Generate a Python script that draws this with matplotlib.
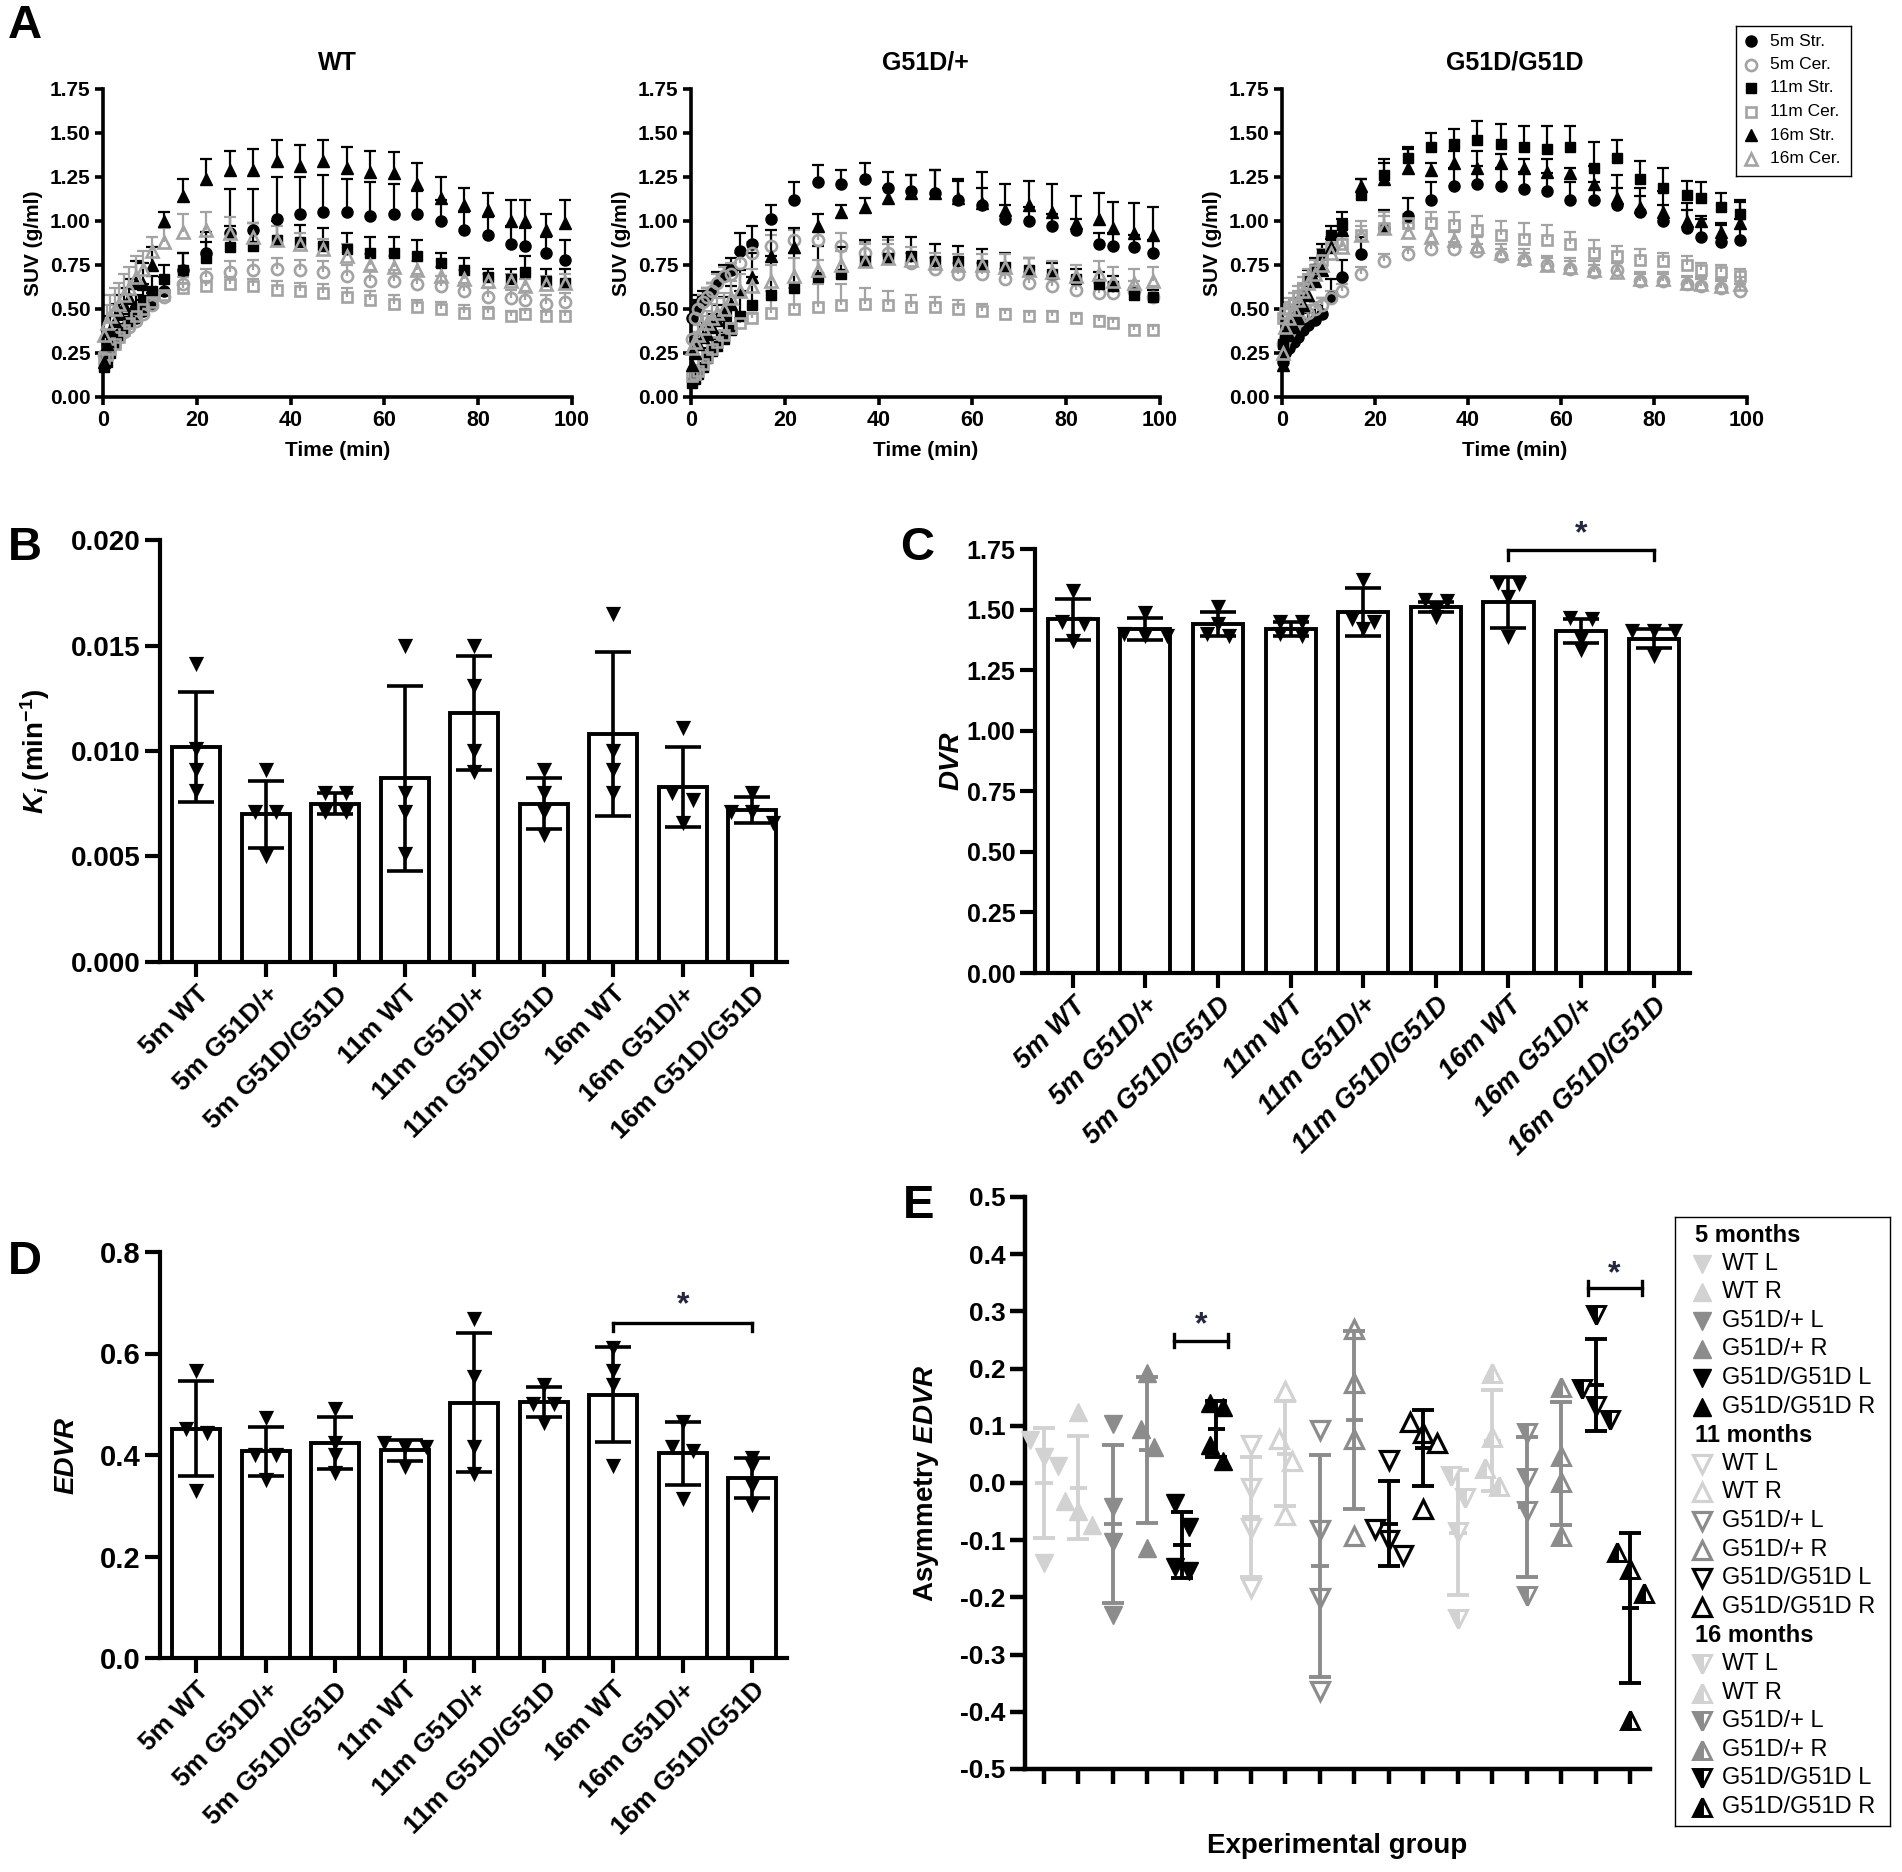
import matplotlib
matplotlib.use("Agg")
import matplotlib.pyplot as plt
import numpy as np

W, H = 1902, 1872
GRAY = "#a3a3a3"

plt.rcParams.update({
    "font.family": ["Liberation Sans", "DejaVu Sans"],
    "font.weight": "bold",
    "axes.labelweight": "bold",
    "axes.spines.top": False,
    "axes.spines.right": False,
    "axes.unicode_minus": False,
    "mathtext.fontset": "custom",
    "mathtext.rm": "Liberation Sans:bold",
    "mathtext.it": "Liberation Sans:italic:bold",
    "mathtext.bf": "Liberation Sans:bold",
})

# ---------------- panel A : SUV time activity curves ----------------
TIME = [0.25, 0.75, 1.5, 2.5, 3.5, 4.5, 5.5, 7, 8.5, 10.5, 13,
        17, 22, 27, 32, 37, 42, 47, 52, 57, 62, 67, 72, 77, 82, 87, 90, 94.5, 98.5]

WT_STR5 = [0.24, 0.27, 0.30, 0.33, 0.36, 0.39, 0.42, 0.45, 0.49, 0.52, 0.60,
           0.72, 0.82, 0.93, 0.95, 1.01, 1.04, 1.05, 1.05, 1.03, 1.04, 1.04, 1.00, 0.95, 0.92, 0.87, 0.86, 0.82, 0.78]
WT_STR5_SD = [0.03, 0.03, 0.04, 0.04, 0.05, 0.05, 0.05, 0.06, 0.06, 0.07, 0.08,
              0.10, 0.12, 0.25, 0.23, 0.24, 0.21, 0.21, 0.19, 0.19, 0.17, 0.13, 0.12, 0.10, 0.10, 0.10, 0.10, 0.09, 0.11]
WT_CER5 = [0.24, 0.26, 0.28, 0.31, 0.34, 0.37, 0.40, 0.43, 0.47, 0.52, 0.57,
           0.64, 0.68, 0.71, 0.72, 0.73, 0.72, 0.71, 0.69, 0.66, 0.66, 0.64, 0.63, 0.60, 0.57, 0.56, 0.55, 0.53, 0.54]
WT_CER5_SD = [0.03, 0.03, 0.03, 0.03, 0.03, 0.03, 0.03, 0.03, 0.03, 0.03, 0.03,
              0.04, 0.05, 0.06, 0.06, 0.06, 0.06, 0.06, 0.06, 0.06, 0.06, 0.06, 0.06, 0.05, 0.05, 0.05, 0.05, 0.05, 0.05]
WT_STR11 = [0.17, 0.20, 0.25, 0.30, 0.35, 0.39, 0.43, 0.50, 0.55, 0.60, 0.67,
            0.72, 0.79, 0.85, 0.86, 0.89, 0.88, 0.86, 0.84, 0.82, 0.82, 0.80, 0.76, 0.72, 0.68, 0.67, 0.71, 0.66, 0.65]
WT_STR11_SD = [0.03, 0.03, 0.04, 0.05, 0.05, 0.06, 0.07, 0.08, 0.09, 0.09, 0.08,
               0.10, 0.09, 0.12, 0.13, 0.11, 0.10, 0.10, 0.09, 0.09, 0.09, 0.09, 0.06, 0.07, 0.05, 0.06, 0.09, 0.07, 0.08]
WT_CER11 = [0.22, 0.24, 0.27, 0.30, 0.34, 0.38, 0.42, 0.46, 0.50, 0.54, 0.58,
            0.62, 0.63, 0.64, 0.63, 0.61, 0.60, 0.59, 0.57, 0.55, 0.53, 0.51, 0.50, 0.48, 0.48, 0.46, 0.47, 0.46, 0.46]
WT_CER11_SD = [0.03, 0.03, 0.03, 0.03, 0.03, 0.03, 0.03, 0.03, 0.03, 0.03, 0.03,
               0.03, 0.03, 0.04, 0.04, 0.05, 0.05, 0.05, 0.05, 0.05, 0.05, 0.04, 0.04, 0.04, 0.03, 0.03, 0.03, 0.03, 0.03]
WT_STR16 = [0.20, 0.30, 0.38, 0.43, 0.48, 0.52, 0.56, 0.65, 0.64, 0.75, 1.00,
            1.14, 1.24, 1.29, 1.29, 1.34, 1.31, 1.34, 1.30, 1.28, 1.27, 1.21, 1.13, 1.09, 1.06, 1.00, 1.00, 0.95, 0.99]
WT_STR16_SD = [0.05, 0.06, 0.08, 0.10, 0.10, 0.10, 0.11, 0.12, 0.12, 0.10, 0.05,
               0.10, 0.11, 0.11, 0.12, 0.12, 0.12, 0.12, 0.12, 0.12, 0.12, 0.12, 0.12, 0.10, 0.10, 0.12, 0.12, 0.09, 0.13]
WT_CER16 = [0.35, 0.42, 0.46, 0.50, 0.53, 0.58, 0.62, 0.68, 0.73, 0.83, 0.88,
            0.94, 0.95, 0.93, 0.91, 0.89, 0.87, 0.84, 0.80, 0.75, 0.74, 0.72, 0.69, 0.67, 0.66, 0.66, 0.63, 0.64, 0.65]
WT_CER16_SD = [0.08, 0.10, 0.12, 0.12, 0.12, 0.12, 0.12, 0.12, 0.10, 0.08, 0.08,
               0.10, 0.10, 0.09, 0.08, 0.08, 0.06, 0.06, 0.07, 0.06, 0.06, 0.05, 0.05, 0.05, 0.04, 0.04, 0.04, 0.05, 0.05]

HET_STR5 = [0.45, 0.50, 0.53, 0.55, 0.57, 0.60, 0.65, 0.69, 0.72, 0.83, 0.87,
            1.01, 1.12, 1.22, 1.21, 1.24, 1.19, 1.17, 1.16, 1.12, 1.09, 1.01, 1.00, 0.97, 0.95, 0.87, 0.86, 0.85, 0.82]
HET_STR5_SD = [0.05, 0.05, 0.05, 0.05, 0.05, 0.05, 0.06, 0.06, 0.07, 0.10, 0.10,
               0.08, 0.10, 0.10, 0.08, 0.09, 0.09, 0.09, 0.13, 0.11, 0.10, 0.08, 0.08, 0.07, 0.06, 0.06, 0.07, 0.07, 0.07]
HET_CER5 = [0.33, 0.45, 0.50, 0.54, 0.57, 0.60, 0.65, 0.69, 0.70, 0.76, 0.82,
            0.86, 0.89, 0.89, 0.86, 0.82, 0.82, 0.76, 0.73, 0.70, 0.70, 0.67, 0.65, 0.63, 0.61, 0.59, 0.59, 0.60, 0.57]
HET_CER5_SD = [0.04, 0.04, 0.04, 0.04, 0.05, 0.05, 0.05, 0.05, 0.06, 0.06, 0.06,
               0.06, 0.06, 0.05, 0.07, 0.06, 0.07, 0.06, 0.06, 0.06, 0.06, 0.06, 0.06, 0.06, 0.06, 0.06, 0.06, 0.06, 0.06]
HET_STR11 = [0.08, 0.10, 0.13, 0.17, 0.22, 0.26, 0.29, 0.33, 0.38, 0.46, 0.52,
             0.58, 0.62, 0.68, 0.70, 0.77, 0.79, 0.80, 0.77, 0.77, 0.75, 0.74, 0.72, 0.70, 0.67, 0.64, 0.63, 0.58, 0.57]
HET_STR11_SD = [0.03, 0.03, 0.04, 0.05, 0.06, 0.07, 0.08, 0.10, 0.12, 0.14, 0.16,
                0.22, 0.20, 0.18, 0.15, 0.12, 0.12, 0.11, 0.10, 0.09, 0.09, 0.08, 0.07, 0.06, 0.06, 0.07, 0.06, 0.04, 0.04]
HET_CER11 = [0.12, 0.13, 0.15, 0.19, 0.23, 0.27, 0.31, 0.35, 0.39, 0.42, 0.45,
             0.48, 0.50, 0.51, 0.52, 0.53, 0.52, 0.51, 0.51, 0.50, 0.49, 0.47, 0.46, 0.46, 0.45, 0.43, 0.42, 0.38, 0.38]
HET_CER11_SD = [0.03, 0.03, 0.03, 0.03, 0.03, 0.03, 0.03, 0.03, 0.03, 0.03, 0.03,
                0.12, 0.12, 0.13, 0.12, 0.09, 0.08, 0.07, 0.06, 0.05, 0.04, 0.03, 0.03, 0.03, 0.03, 0.03, 0.03, 0.03, 0.03]
HET_STR16 = [0.18, 0.25, 0.30, 0.34, 0.36, 0.40, 0.44, 0.48, 0.53, 0.60, 0.68,
             0.80, 0.85, 0.97, 1.05, 1.08, 1.13, 1.16, 1.16, 1.13, 1.10, 1.06, 1.09, 1.05, 0.99, 1.01, 0.96, 0.93, 0.92]
HET_STR16_SD = [0.05, 0.05, 0.05, 0.06, 0.06, 0.07, 0.08, 0.09, 0.10, 0.12, 0.14,
                0.15, 0.11, 0.07, 0.04, 0.05, 0.06, 0.10, 0.13, 0.11, 0.18, 0.15, 0.14, 0.16, 0.15, 0.15, 0.15, 0.17, 0.16]
HET_CER16 = [0.28, 0.31, 0.35, 0.39, 0.42, 0.45, 0.48, 0.50, 0.56, 0.60, 0.63,
             0.66, 0.69, 0.72, 0.75, 0.77, 0.79, 0.78, 0.76, 0.75, 0.75, 0.74, 0.72, 0.71, 0.69, 0.70, 0.66, 0.65, 0.66]
HET_CER16_SD = [0.06, 0.06, 0.06, 0.07, 0.07, 0.08, 0.08, 0.09, 0.10, 0.10, 0.10,
                0.09, 0.10, 0.06, 0.08, 0.10, 0.08, 0.07, 0.06, 0.06, 0.06, 0.07, 0.07, 0.06, 0.06, 0.07, 0.08, 0.08, 0.08]

HOM_STR5 = [0.20, 0.25, 0.28, 0.31, 0.34, 0.38, 0.41, 0.44, 0.47, 0.57, 0.68,
            0.81, 0.96, 1.03, 1.12, 1.20, 1.21, 1.20, 1.18, 1.17, 1.12, 1.12, 1.09, 1.05, 1.00, 0.96, 0.91, 0.88, 0.89]
HOM_STR5_SD = [0.04, 0.04, 0.05, 0.05, 0.06, 0.06, 0.07, 0.08, 0.09, 0.10, 0.10,
               0.10, 0.10, 0.10, 0.10, 0.10, 0.10, 0.10, 0.10, 0.10, 0.10, 0.10, 0.10, 0.09, 0.09, 0.10, 0.10, 0.10, 0.12]
HOM_CER5 = [0.30, 0.33, 0.37, 0.40, 0.43, 0.46, 0.48, 0.50, 0.52, 0.56, 0.60,
            0.70, 0.77, 0.81, 0.84, 0.84, 0.83, 0.80, 0.78, 0.75, 0.73, 0.71, 0.72, 0.66, 0.66, 0.64, 0.63, 0.62, 0.60]
HOM_CER5_SD = [0.04, 0.04, 0.04, 0.04, 0.04, 0.04, 0.04, 0.04, 0.04, 0.04, 0.04,
               0.04, 0.04, 0.04, 0.04, 0.04, 0.04, 0.04, 0.04, 0.04, 0.04, 0.04, 0.04, 0.04, 0.04, 0.04, 0.04, 0.04, 0.04]
HOM_STR11 = [0.30, 0.35, 0.40, 0.45, 0.50, 0.58, 0.66, 0.73, 0.81, 0.92, 0.98,
             1.15, 1.26, 1.36, 1.42, 1.44, 1.46, 1.44, 1.42, 1.41, 1.42, 1.30, 1.36, 1.24, 1.19, 1.15, 1.13, 1.08, 1.04]
HOM_STR11_SD = [0.05, 0.05, 0.05, 0.06, 0.06, 0.06, 0.06, 0.06, 0.06, 0.05, 0.07,
                0.09, 0.09, 0.06, 0.08, 0.08, 0.11, 0.11, 0.12, 0.13, 0.12, 0.15, 0.10, 0.10, 0.11, 0.08, 0.09, 0.08, 0.08]
HOM_CER11 = [0.45, 0.48, 0.50, 0.53, 0.57, 0.62, 0.67, 0.72, 0.78, 0.85, 0.87,
             0.92, 0.96, 0.99, 0.99, 0.98, 0.95, 0.92, 0.90, 0.89, 0.87, 0.82, 0.80, 0.78, 0.77, 0.75, 0.72, 0.71, 0.69]
HOM_CER11_SD = [0.06, 0.06, 0.06, 0.06, 0.06, 0.06, 0.06, 0.06, 0.06, 0.06, 0.06,
                0.05, 0.09, 0.05, 0.06, 0.07, 0.08, 0.08, 0.09, 0.09, 0.07, 0.07, 0.06, 0.06, 0.05, 0.05, 0.04, 0.04, 0.04]
HOM_STR16 = [0.18, 0.28, 0.35, 0.40, 0.45, 0.52, 0.58, 0.66, 0.72, 0.85, 0.95,
             1.20, 1.24, 1.30, 1.29, 1.33, 1.30, 1.33, 1.30, 1.28, 1.27, 1.21, 1.13, 1.08, 1.05, 1.00, 1.00, 0.94, 0.99]
HOM_STR16_SD = [0.04, 0.05, 0.05, 0.05, 0.06, 0.06, 0.06, 0.06, 0.06, 0.05, 0.06,
                0.04, 0.09, 0.11, 0.04, 0.07, 0.10, 0.05, 0.05, 0.07, 0.03, 0.10, 0.13, 0.11, 0.12, 0.10, 0.03, 0.05, 0.12]
HOM_CER16 = [0.25, 0.40, 0.45, 0.50, 0.55, 0.60, 0.65, 0.70, 0.75, 0.82, 0.85,
             0.92, 0.96, 0.94, 0.91, 0.89, 0.86, 0.82, 0.79, 0.75, 0.74, 0.72, 0.71, 0.67, 0.67, 0.65, 0.64, 0.63, 0.64]
HOM_CER16_SD = [0.05, 0.05, 0.05, 0.05, 0.05, 0.05, 0.05, 0.05, 0.05, 0.05, 0.05,
                0.08, 0.07, 0.05, 0.05, 0.05, 0.05, 0.05, 0.05, 0.05, 0.05, 0.05, 0.05, 0.04, 0.04, 0.04, 0.04, 0.04, 0.04]

A_SERIES = [("5m Str.", "o", "black"), ("5m Cer.", "o", GRAY), ("11m Str.", "s", "black"),
            ("11m Cer.", "s", GRAY), ("16m Str.", "^", "black"), ("16m Cer.", "^", GRAY)]

# ---------------- panels B-D : bar charts ----------------
GROUPS = ["5m WT", "5m G51D/+", "5m G51D/G51D", "11m WT", "11m G51D/+",
          "11m G51D/G51D", "16m WT", "16m G51D/+", "16m G51D/G51D"]

KI_MEAN = [0.0102, 0.0070, 0.0075, 0.0087, 0.0118, 0.0075, 0.0108, 0.0083, 0.0072]
KI_SD = [0.0026, 0.0016, 0.0005, 0.0044, 0.0027, 0.0012, 0.0039, 0.0019, 0.0006]
KI_POINTS = [[0.0141, 0.0101, 0.0091, 0.0081], [0.0091, 0.0071, 0.0071, 0.0050],
             [0.0080, 0.0080, 0.0071, 0.0071], [0.0150, 0.0080, 0.0071, 0.0051],
             [0.0150, 0.0131, 0.0100, 0.0090], [0.0091, 0.0080, 0.0071, 0.0060],
             [0.0165, 0.0100, 0.0091, 0.0080], [0.0111, 0.0080, 0.0077, 0.0066],
             [0.0080, 0.0071, 0.0071, 0.0066]]

DVR_MEAN = [1.46, 1.42, 1.44, 1.42, 1.49, 1.51, 1.53, 1.41, 1.38]
DVR_SD = [0.085, 0.045, 0.048, 0.03, 0.10, 0.02, 0.105, 0.05, 0.04]
DVR_POINTS = [[1.575, 1.45, 1.44, 1.37], [1.487, 1.40, 1.39, 1.39], [1.51, 1.44, 1.40, 1.39],
              [1.447, 1.447, 1.40, 1.39], [1.62, 1.46, 1.45, 1.42], [1.54, 1.535, 1.50, 1.47],
              [1.61, 1.605, 1.55, 1.385], [1.465, 1.46, 1.38, 1.335], [1.41, 1.41, 1.41, 1.31]]

EDVR_MEAN = [0.452, 0.407, 0.4235, 0.409, 0.503, 0.5045, 0.519, 0.403, 0.355]
EDVR_SD = [0.093, 0.048, 0.052, 0.021, 0.137, 0.029, 0.094, 0.063, 0.04]
EDVR_POINTS = [[0.565, 0.452, 0.444, 0.330], [0.472, 0.40, 0.40, 0.351], [0.49, 0.4235, 0.40, 0.365],
               [0.4235, 0.415, 0.415, 0.377], [0.668, 0.553, 0.415, 0.363], [0.537, 0.50, 0.50, 0.464],
               [0.61, 0.565, 0.537, 0.379], [0.466, 0.415, 0.407, 0.314], [0.395, 0.379, 0.338, 0.302]]

# ---------------- panel E : asymmetry ----------------
AGES = ["5 months", "11 months", "16 months"]
SUBGROUPS = ["WT L", "WT R", "G51D/+ L", "G51D/+ R", "G51D/G51D L", "G51D/G51D R"]
E_COLORS = ["#d2d2d2", "#8c8c8c", "black"]
ASYM_MEAN = [0.0, -0.008, -0.072, 0.058, -0.108, 0.095, -0.06, 0.051, -0.145,
             0.11, -0.071, 0.061, -0.087, 0.074, -0.042, 0.034, 0.171, -0.219]
ASYM_SD = [0.097, 0.09, 0.138, 0.128, 0.058, 0.049, 0.105, 0.092, 0.194,
           0.156, 0.074, 0.067, 0.109, 0.088, 0.122, 0.108, 0.08, 0.131]
ASYM_POINTS = [[0.075, 0.045, 0.03, -0.14], [0.124, -0.031, -0.049, -0.074],
               [0.104, -0.042, -0.103, -0.23], [0.193, 0.095, 0.063, -0.114],
               [-0.035, -0.077, -0.154, -0.147], [0.139, 0.132, 0.067, 0.038],
               [0.067, -0.009, -0.078, -0.183], [0.16, 0.077, 0.038, -0.056],
               [0.093, -0.082, -0.201, -0.364], [0.269, 0.175, 0.077, -0.093],
               [0.041, -0.08, -0.1, -0.125], [0.106, 0.088, 0.07, -0.046],
               [0.012, -0.026, -0.085, -0.237], [0.193, 0.081, 0.027, -0.006],
               [0.088, 0.009, -0.049, -0.197], [0.168, 0.048, 0.001, -0.093],
               [0.294, 0.165, 0.135, 0.11], [-0.121, -0.15, -0.193, -0.414]]

STAR_COLOR = "#25273f"


def axes_px(fig, l, t, r, b):
    return fig.add_axes([l / W, 1 - b / H, (r - l) / W, (b - t) / H])


def frame(ax, lw=2.6, length=8):
    for side in ("left", "bottom"):
        ax.spines[side].set_linewidth(lw)
    ax.tick_params(direction="out", length=length, width=lw, color="black", pad=3)


def spread(vals, thr, step):
    vals = np.asarray(vals, dtype=float)
    order = np.argsort(-vals)
    clusters, cur = [], [order[0]]
    for i in order[1:]:
        if abs(vals[i] - vals[cur[-1]]) < thr:
            cur.append(i)
        else:
            clusters.append(cur)
            cur = [i]
    clusters.append(cur)
    offs = np.zeros(len(vals))
    for c in clusters:
        for k, i in enumerate(c):
            offs[i] = (k - (len(c) - 1) / 2) * step
    return offs


def draw_kinetics(ax, title, values, sds, width):
    t = np.array(TIME)
    for (label, marker, color), vals, sd in zip(A_SERIES, values, sds):
        v, e = np.array(vals), np.array(sd)
        ax.vlines(t, v, v + e, color=color, lw=1.6, zorder=2)
        ax.plot(t, v + e, ls="none", marker="_", ms=8.5, mew=1.6, color=color, zorder=2)
        filled = color == "black"
        ms = {"o": 8, "s": 7, "^": 8.5}[marker]
        ax.plot(t, v, ls="none", marker=marker, ms=ms, mfc=color if filled else "none",
                mec=color, mew=1 if filled else 1.9, zorder=3, clip_on=False)
    ax.set_xlim(0, 100)
    ax.set_ylim(0, 1.75)
    ax.set_xticks([0, 20, 40, 60, 80, 100], ["0", "20", "40", "60", "80", "100"],
                  fontsize=15.5, fontweight="bold")
    yt = [0, 0.25, 0.5, 0.75, 1.0, 1.25, 1.5, 1.75]
    ax.set_yticks(yt, [f"{v:.2f}" for v in yt], fontsize=15, fontweight="bold")
    frame(ax, lw=2.6, length=6)
    ax.set_title(title, fontsize=18, fontweight="bold", pad=14)
    ax.set_xlabel("Time (min)", fontsize=15)
    ax.xaxis.set_label_coords(0.5, -44 / 308)
    ax.set_ylabel("SUV (g/ml)", fontsize=15)
    ax.yaxis.set_label_coords(-60 / width, 0.5)


def draw_bars(ax, means, sds, points, thr, step, label_style="normal", label_size=19):
    x = np.arange(len(GROUPS))
    ax.bar(x, means, width=0.69, facecolor="white", edgecolor="black", linewidth=2.8, zorder=2)
    ax.errorbar(x, means, yerr=sds, fmt="none", ecolor="black", elinewidth=2.6,
                capsize=13, capthick=2.6, zorder=3)
    for xi, pts in zip(x, points):
        ax.scatter(xi + spread(pts, thr, step), pts, marker="v", s=120, color="black",
                   linewidths=0, zorder=4, clip_on=False)
    ax.set_xlim(-0.52, 8.5)
    ax.set_xticks(x, GROUPS, rotation=45, ha="right", va="top", rotation_mode="anchor",
                  fontsize=label_size, fontweight="bold", fontstyle=label_style)
    frame(ax, lw=3, length=11)


def bracket(ax, x0, x1, y, drop, star_y, both=False):
    ax.plot([x0, x1], [y, y], color="black", lw=2.4, clip_on=False, zorder=5)
    for xe in (x0, x1):
        lo = y - drop
        hi = y + drop if both else y
        ax.plot([xe, xe], [lo, hi], color="black", lw=2.4, clip_on=False, zorder=5)
    ax.text((x0 + x1) / 2, star_y, "*", ha="center", va="center", fontsize=23,
            color=STAR_COLOR, fontweight="bold", clip_on=False)


def marker_style(age, color):
    if age == 0:
        return dict(mfc=color, mec=color, mew=1)
    if age == 1:
        return dict(mfc="none", mec=color, mew=2.3)
    return dict(fillstyle="left", mfc=color, mfcalt="white", mec=color, mew=2.1)


def main():
    fig = plt.figure(figsize=(W / 100, H / 100), dpi=100)

    # ---- A ----
    a_layout = [(103, 572), (691, 1160), (1282, 1747)]
    a_data = [
        ("WT", [WT_STR5, WT_CER5, WT_STR11, WT_CER11, WT_STR16, WT_CER16],
         [WT_STR5_SD, WT_CER5_SD, WT_STR11_SD, WT_CER11_SD, WT_STR16_SD, WT_CER16_SD]),
        ("G51D/+", [HET_STR5, HET_CER5, HET_STR11, HET_CER11, HET_STR16, HET_CER16],
         [HET_STR5_SD, HET_CER5_SD, HET_STR11_SD, HET_CER11_SD, HET_STR16_SD, HET_CER16_SD]),
        ("G51D/G51D", [HOM_STR5, HOM_CER5, HOM_STR11, HOM_CER11, HOM_STR16, HOM_CER16],
         [HOM_STR5_SD, HOM_CER5_SD, HOM_STR11_SD, HOM_CER11_SD, HOM_STR16_SD, HOM_CER16_SD]),
    ]
    for (l, r), (title, vals, sds) in zip(a_layout, a_data):
        ax = axes_px(fig, l, 89, r, 397)
        draw_kinetics(ax, title, vals, sds, r - l)

    leg = axes_px(fig, 1736, 26, 1851, 176)
    leg.set_xlim(0, 115)
    leg.set_ylim(150, 0)
    leg.set_xticks([])
    leg.set_yticks([])
    for s in leg.spines.values():
        s.set_visible(True)
        s.set_linewidth(1.0)
    for k, (label, marker, color) in enumerate(A_SERIES):
        y = 15 + k * 23.5
        filled = color == "black"
        leg.plot([15], [y], ls="none", marker=marker, ms={"o": 8, "s": 7, "^": 8.5}[marker],
                 mfc=color if filled else "none", mec=color, mew=1 if filled else 1.9)
        leg.text(34, y, label, va="center", ha="left", fontsize=12.5, fontweight="normal")

    # ---- B ----
    axb = axes_px(fig, 160, 540, 787, 962)
    draw_bars(axb, KI_MEAN, KI_SD, KI_POINTS, 0.0006, 0.3)
    axb.set_ylim(0, 0.020)
    yt = [0, 0.005, 0.010, 0.015, 0.020]
    axb.set_yticks(yt, [f"{v:.3f}" for v in yt], fontsize=20, fontweight="bold")
    axb.set_ylabel(r"$K_i$ (min$^{-1}$)", fontsize=20)
    axb.yaxis.set_label_coords(-108 / 627, 0.5)

    # ---- C ----
    axc = axes_px(fig, 1035, 549, 1690, 973)
    draw_bars(axc, DVR_MEAN, DVR_SD, DVR_POINTS, 0.03, 0.3, label_style="italic", label_size=19.5)
    axc.set_ylim(0, 1.75)
    yt = [0, 0.25, 0.5, 0.75, 1.0, 1.25, 1.5, 1.75]
    axc.set_yticks(yt, [f"{v:.2f}" for v in yt], fontsize=18, fontweight="bold")
    axc.set_ylabel("DVR", fontsize=20, fontstyle="italic")
    axc.yaxis.set_label_coords(-70 / 655, 0.5)
    bracket(axc, 6, 8, 1.745, 0.04, 1.81)

    # ---- D ----
    axd = axes_px(fig, 160, 1252, 787, 1658)
    draw_bars(axd, EDVR_MEAN, EDVR_SD, EDVR_POINTS, 0.015, 0.3)
    axd.set_ylim(0, 0.8)
    yt = [0, 0.2, 0.4, 0.6, 0.8]
    axd.set_yticks(yt, [f"{v:.1f}" for v in yt], fontsize=21, fontweight="bold")
    axd.set_ylabel("EDVR", fontsize=20, fontstyle="italic")
    axd.yaxis.set_label_coords(-80 / 627, 0.5)
    bracket(axd, 6, 8, 0.66, 0.016, 0.695)

    # ---- E ----
    axe = axes_px(fig, 1025, 1197, 1650, 1769)
    for g in range(18):
        age, geno, side = g // 6, (g % 6) // 2, g % 2
        color = E_COLORS[geno]
        mean, sd = ASYM_MEAN[g], ASYM_SD[g]
        axe.errorbar([g], [mean], yerr=[sd], fmt="none", ecolor=color, elinewidth=2.8,
                     capsize=8, capthick=2.8, zorder=2)
        axe.hlines(mean, g - 0.25, g + 0.25, color=color, lw=2.8, zorder=2)
        pts = ASYM_POINTS[g]
        axe.plot(g + spread(pts, 0.045, 0.4), pts, ls="none",
                 marker="v" if side == 0 else "^", ms=12.5, zorder=3, clip_on=False,
                 **marker_style(age, color))
    axe.set_xlim(-0.55, 17.57)
    axe.set_ylim(-0.5, 0.5)
    axe.set_xticks(np.arange(18), [""] * 18)
    yt = np.round(np.arange(-0.5, 0.51, 0.1), 1)
    axe.set_yticks(yt, [f"{v:.1f}".replace("-0.0", "0.0") for v in yt], fontsize=19,
                   fontweight="bold")
    frame(axe, lw=3.2, length=11)
    axe.set_ylabel("Asymmetry $EDVR$", fontsize=20)
    axe.yaxis.set_label_coords(-84 / 625, 0.5)
    axe.set_xlabel("Experimental group", fontsize=20)
    axe.xaxis.set_label_coords(0.5, -64 / 572)
    bracket(axe, 3.76, 5.33, 0.249, 0.012, 0.276, both=True)
    bracket(axe, 15.76, 17.33, 0.341, 0.012, 0.365, both=True)

    lg = axes_px(fig, 1675, 1217, 1890, 1826)
    lg.set_xlim(0, 215)
    lg.set_ylim(609, 0)
    lg.set_xticks([])
    lg.set_yticks([])
    for s in lg.spines.values():
        s.set_visible(True)
        s.set_linewidth(1.0)
    row = 0
    for age, age_label in enumerate(AGES):
        y = 18 + row * 28.6
        lg.text(20, y, age_label, va="center", ha="left", fontsize=17, fontweight="bold")
        row += 1
        for k, sub in enumerate(SUBGROUPS):
            y = 18 + row * 28.6
            color = E_COLORS[k // 2]
            lg.plot([27], [y], ls="none", marker="v" if k % 2 == 0 else "^", ms=12.5,
                    **marker_style(age, color))
            lg.text(47, y, sub, va="center", ha="left", fontsize=17, fontweight="normal")
            row += 1

    # ---- panel letters ----
    for letter, (x, y) in {"A": (8, 4), "B": (8, 526), "C": (900, 526),
                           "D": (8, 1240), "E": (903, 1184)}.items():
        fig.text(x / W, 1 - y / H, letter, fontsize=34, fontweight="bold", va="top", ha="left")

    fig.savefig("out.png", dpi=100)
    plt.close(fig)


if __name__ == "__main__":
    main()
